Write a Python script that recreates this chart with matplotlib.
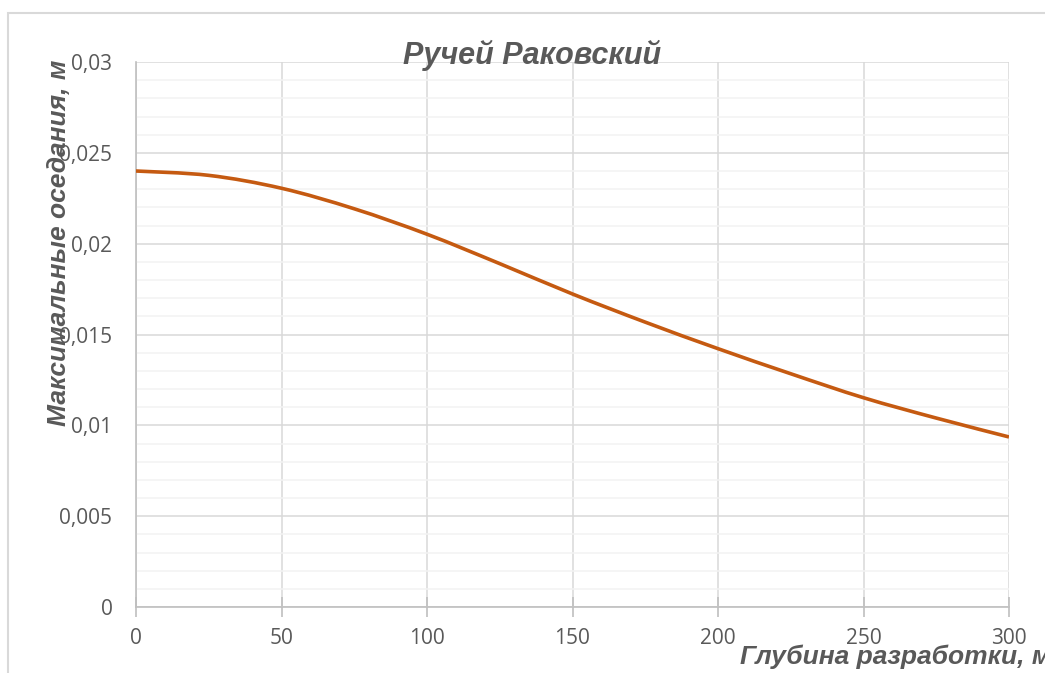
import matplotlib
matplotlib.use("Agg")
import matplotlib.pyplot as plt
from matplotlib.patches import Rectangle, PathPatch
from matplotlib.path import Path
from matplotlib.ticker import MultipleLocator, FuncFormatter

# values
depth = [0, 25, 50, 75, 100, 125, 150, 175, 200, 225, 250, 275, 300]
subsidence = [0.02400, 0.02376, 0.02305, 0.02192, 0.02052, 0.01890, 0.01723,
              0.01568, 0.01422, 0.01284, 0.01152, 0.01040, 0.00936]

title = "Ручей Раковский"
x_label = "Глубина разработки, м"
y_label = "Максимальные оседания, м"

text_grey = "#595959"
line_color = "#C55A11"


def smooth_path(xs, ys, t=1 / 6):
    # Excel-like smoothed line: Catmull-Rom segments as cubic Beziers
    verts = [(xs[0], ys[0])]
    codes = [Path.MOVETO]
    n = len(xs)
    for i in range(n - 1):
        x0, y0 = xs[max(i - 1, 0)], ys[max(i - 1, 0)]
        x1, y1 = xs[i], ys[i]
        x2, y2 = xs[i + 1], ys[i + 1]
        x3, y3 = xs[min(i + 2, n - 1)], ys[min(i + 2, n - 1)]
        c1 = (x1 + (x2 - x0) * t, y1 + (y2 - y0) * t)
        c2 = (x2 - (x3 - x1) * t, y2 - (y3 - y1) * t)
        verts += [c1, c2, (x2, y2)]
        codes += [Path.CURVE4] * 3
    return Path(verts, codes)


fig = plt.figure(figsize=(10.45, 6.73), dpi=100)
W, H = 1045, 673

# chart area border (runs off the right and bottom edges like the screenshot)
fig.patches.append(Rectangle((8 / W, -0.1), 1.2, 1 - 13 / H + 0.1,
                             transform=fig.transFigure, fill=False,
                             edgecolor="#D9D9D9", linewidth=1.5))

ax = fig.add_axes([136 / W, 1 - 607 / H, (1009 - 136) / W, (607 - 62) / H])
ax.add_patch(PathPatch(smooth_path(depth, subsidence), facecolor="none",
                       edgecolor=line_color, linewidth=2.6,
                       capstyle="butt", zorder=3))

ax.set_xlim(0, 300)
ax.set_ylim(0, 0.03)
ax.xaxis.set_major_locator(MultipleLocator(50))
ax.yaxis.set_major_locator(MultipleLocator(0.005))
ax.yaxis.set_minor_locator(MultipleLocator(0.001))


def comma_fmt(v, pos):
    s = f"{v:.3f}".rstrip("0").rstrip(".")
    return s.replace(".", ",")


ax.yaxis.set_major_formatter(FuncFormatter(comma_fmt))

ax.grid(which="major", color="#D9D9D9", linewidth=1.1)
ax.grid(which="minor", axis="y", color="#F2F2F2", linewidth=1.1)
ax.set_axisbelow(True)

for side in ["top", "right"]:
    ax.spines[side].set_visible(False)
for side in ["left", "bottom"]:
    ax.spines[side].set_color("#BFBFBF")
    ax.spines[side].set_linewidth(1.2)

ax.tick_params(axis="x", which="major", direction="inout", length=14,
               color="#BFBFBF", width=1.2, pad=8,
               labelsize=15, labelcolor=text_grey)
ax.tick_params(axis="y", which="both", length=0, pad=17,
               labelsize=15, labelcolor=text_grey)
for lab in ax.get_xticklabels() + ax.get_yticklabels():
    lab.set_fontfamily("Open Sans")

fig.text(532 / W, 1 - 55 / H, title, ha="center", va="center",
         fontsize=22, fontweight="bold", fontstyle="italic",
         family="Liberation Sans", color=text_grey)
fig.text(740 / W, 1 - 657 / H, x_label, ha="left", va="center",
         fontsize=19, fontweight="bold", fontstyle="italic",
         family="Liberation Sans", color=text_grey)
fig.text(59 / W, 1 - 243 / H, y_label, ha="center", va="center",
         rotation=90, fontsize=19, fontweight="bold", fontstyle="italic",
         family="Liberation Sans", color=text_grey)

fig.savefig("out.png", dpi=100)
